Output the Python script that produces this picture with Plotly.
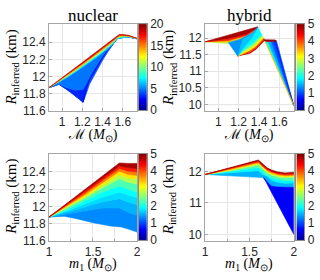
import plotly.graph_objects as go

# ---------------- data ----------------
# Top-left: nuclear, x = chirp mass, colour 0..20
nuc_mc_x = [0.871, 0.968, 1.048, 1.128, 1.208, 1.24, 1.272, 1.30, 1.353, 1.40, 1.449, 1.50, 1.545, 1.567, 1.60, 1.657, 1.741]
nuc_mc_edge_low = [11.87, 11.91, 11.85, 11.78, 11.70, 11.80, 11.91, 11.97, 12.09, 12.185, 12.28, 12.367, 12.44, 12.445, 12.455, 12.46, 12.44]
nuc_mc_seam = [11.87, 11.91, 11.85, 11.78, 11.70, 11.86, 11.96, 12.02, 12.13, 12.22, 12.30, 12.37, 12.44, 12.445, 12.455, 12.46, 12.44]
nuc_mc_mid = [11.87, 11.91, 11.87, 11.84, 11.85, 11.92, 12.00, 12.05, 12.15, 12.235, 12.31, 12.375, 12.44, 12.445, 12.455, 12.46, 12.44]
nuc_mc_iso7 = [11.870, 11.932, 11.988, 12.049, 12.111, 12.137, 12.164, 12.188, 12.234, 12.276, 12.321, 12.375, 12.44, 12.445, 12.455, 12.46, 12.44]
nuc_mc_iso11 = [11.870, 11.938, 11.998, 12.062, 12.126, 12.153, 12.180, 12.204, 12.251, 12.293, 12.337, 12.389, 12.448, 12.456, 12.463, 12.465, 12.441]
nuc_mc_iso15 = [11.870, 11.945, 12.008, 12.074, 12.141, 12.168, 12.196, 12.221, 12.267, 12.309, 12.354, 12.403, 12.456, 12.468, 12.472, 12.470, 12.443]
nuc_mc_iso19 = [11.870, 11.951, 12.018, 12.087, 12.156, 12.184, 12.212, 12.237, 12.284, 12.326, 12.370, 12.417, 12.463, 12.479, 12.480, 12.475, 12.444]
nuc_mc_edge_top = [11.870, 11.957, 12.028, 12.099, 12.171, 12.199, 12.228, 12.253, 12.300, 12.342, 12.386, 12.431, 12.471, 12.490, 12.488, 12.480, 12.445]
nuc_mc_band_values = [4.2, 3.2, 4.8, 7.0, 10.5, 14.5, 18.5]

# Bottom-left: nuclear, x = m1, colour 0..5
nuc_m1_x = [1.0, 1.2, 1.4, 1.6, 1.8, 1.9, 2.0]
nuc_m1_low_x = [1.0, 1.1, 1.17, 1.3, 1.5, 1.7, 1.82, 1.9, 2.0]
nuc_m1_low = [11.875, 11.885, 11.885, 11.86, 11.81, 11.77, 11.76, 11.735, 11.70]
nuc_m1_iso15 = [11.875, 11.91, 11.95, 11.98, 11.98, 11.93, 11.90]
nuc_m1_iso16 = [11.875, 11.93, 11.99, 12.05, 12.09, 12.05, 12.02]
nuc_m1_iso18 = [11.875, 11.945, 12.025, 12.105, 12.165, 12.13, 12.10]
nuc_m1_iso20 = [11.875, 11.96, 12.06, 12.16, 12.24, 12.20, 12.17]
nuc_m1_iso25 = [11.875, 11.98, 12.09, 12.21, 12.32, 12.28, 12.26]
nuc_m1_iso30 = [11.875, 11.99, 12.11, 12.24, 12.37, 12.33, 12.32]
nuc_m1_iso35 = [11.875, 12.00, 12.13, 12.27, 12.41, 12.37, 12.36]
nuc_m1_iso40 = [11.875, 12.01, 12.15, 12.295, 12.44, 12.41, 12.40]
nuc_m1_iso45 = [11.875, 12.02, 12.17, 12.32, 12.47, 12.45, 12.44]
nuc_m1_top = [11.875, 12.0325, 12.19, 12.3475, 12.505, 12.50, 12.50]
nuc_m1_band_values = [1.3, 1.5, 1.7, 1.9, 2.25, 2.75, 3.25, 3.75, 4.25, 4.8]

# Bottom-right: hybrid, x = m1, colour 0..5
hyb_m1_x = [1.0, 1.3, 1.6, 1.65, 1.7, 1.75, 1.82, 1.9, 2.0]
hyb_m1_low = [11.9, 11.85, 11.80, 11.80, 11.66, 11.53, 11.50, 11.49, 11.49]
hyb_m1_iso17 = [11.9, 11.95, 12.02, 11.90, 11.84, 11.72, 11.65, 11.62, 11.63]
hyb_m1_iso20 = [11.9, 12.00, 12.12, 11.98, 11.87, 11.80, 11.74, 11.71, 11.72]
hyb_m1_iso25 = [11.9, 12.03, 12.20, 12.06, 11.95, 11.88, 11.82, 11.79, 11.80]
hyb_m1_iso30 = [11.9, 12.05, 12.24, 12.10, 11.99, 11.92, 11.86, 11.83, 11.84]
hyb_m1_iso35 = [11.9, 12.07, 12.27, 12.13, 12.02, 11.95, 11.89, 11.86, 11.87]
hyb_m1_iso40 = [11.9, 12.09, 12.30, 12.16, 12.05, 11.98, 11.92, 11.89, 11.90]
hyb_m1_iso45 = [11.9, 12.11, 12.33, 12.19, 12.08, 12.01, 11.95, 11.92, 11.935]
hyb_m1_top = [11.9, 12.13, 12.36, 12.22, 12.11, 12.04, 11.98, 11.95, 11.97]
hyb_m1_band_values = [1.5, 1.85, 2.25, 2.75, 3.25, 3.75, 4.25, 4.8]
hyb_m1_blue_x = [1.66, 1.70, 1.75, 1.82, 1.9, 2.0]
hyb_m1_blue_top = [11.80, 11.66, 11.53, 11.50, 11.49, 11.49]
hyb_m1_blue_edge_x = [1.66, 2.0]
hyb_m1_blue_edge = [11.80, 10.0]
hyb_m1_blue_value = 0.6

# Top-right: hybrid, x = chirp mass, colour 0..5
hyb_mc_wedge_x = [0.871, 1.10, 1.28, 1.387]
hyb_mc_wedge_top = [11.89, 12.089, 12.246, 12.34]
hyb_mc_wedge_1 = [11.89, 11.99, 12.12, 12.31]
hyb_mc_wedge_2 = [11.89, 11.93, 12.08, 12.29]
hyb_mc_wedge_3 = [11.89, 11.88, 12.05, 12.27]
hyb_mc_wedge_low = [11.89, 11.83, 11.90, 12.00]
hyb_mc_wedge_values = [2.8, 3.5, 4.2, 4.8]

hyb_mc_arc0_x = [1.19, 1.25, 1.31, 1.37, 1.42, 1.455]
hyb_mc_arc0_y = [11.46, 11.49, 11.54, 11.66, 11.82, 11.93]
hyb_mc_arc1_x = [1.19, 1.25, 1.31, 1.37, 1.42, 1.450]
hyb_mc_arc1_y = [11.46, 11.52, 11.58, 11.71, 11.88, 11.96]
hyb_mc_arc2_x = [1.19, 1.25, 1.31, 1.37, 1.41, 1.443]
hyb_mc_arc2_y = [11.46, 11.55, 11.63, 11.76, 11.91, 12.00]
hyb_mc_arc3_x = [1.19, 1.24, 1.30, 1.36, 1.40, 1.435]
hyb_mc_arc3_y = [11.46, 11.58, 11.69, 11.82, 11.96, 12.05]
hyb_mc_arc4_x = [1.19, 1.23, 1.29, 1.35, 1.39, 1.426]
hyb_mc_arc4_y = [11.46, 11.61, 11.75, 11.88, 12.02, 12.10]
hyb_mc_arc5_x = [1.19, 1.26, 1.33, 1.387]
hyb_mc_arc5_y = [11.46, 11.75, 12.00, 12.32]
hyb_mc_arc6_x = [1.19, 1.22, 1.24, 1.28, 1.34, 1.387]
hyb_mc_arc6_y = [11.46, 11.75, 12.00, 12.05, 12.16, 12.32]
hyb_mc_arc7_x = [1.19, 1.10, 1.20, 1.24, 1.28, 1.34, 1.387]
hyb_mc_arc7_y = [11.46, 11.86, 11.95, 12.00, 12.05, 12.16, 12.32]
hyb_mc_arc_values = [4.7, 4.0, 3.2, 2.4, 1.85, 1.6, 1.35]

hyb_mc_bar_top_x = [1.445, 1.555, 1.57]
hyb_mc_bar_top_y = [11.95, 11.945, 11.92]
hyb_mc_bar_low_x = [1.445, 1.46, 1.555, 1.57]
hyb_mc_bar_low_y = [11.95, 11.90, 11.90, 11.92]
hyb_mc_bar_value = 4.9

hyb_mc_tail_top_x = [1.46, 1.467, 1.49, 1.52, 1.545, 1.57]
hyb_mc_tail_top_y = [11.90, 11.90, 11.90, 11.90, 11.905, 11.92]
hyb_mc_tail_end = (1.741, 9.97)
hyb_mc_tail_values = [3.6, 1.85, 1.45, 1.05, 0.85]

# colour bar ranges / tick labels
cbar_nuc_mc_max = 20
cbar_nuc_mc_ticks = [0, 5, 10, 15, 20]
cbar_other_max = 5
cbar_other_ticks = [0, 1, 2, 3, 4, 5]

# ---------------- colour map (MATLAB jet) ----------------
JET = [(0.0, (0, 0, 143)), (0.125, (0, 0, 255)), (0.375, (0, 255, 255)),
       (0.625, (255, 255, 0)), (0.875, (255, 0, 0)), (1.0, (128, 0, 0))]


def jet(v, vmax):
    t = min(max(v / vmax, 0.0), 1.0)
    for (t0, c0), (t1, c1) in zip(JET[:-1], JET[1:]):
        if t <= t1:
            f = (t - t0) / (t1 - t0)
            c = [round(a + (b - a) * f) for a, b in zip(c0, c1)]
            return 'rgb(%d,%d,%d)' % tuple(c)
    return 'rgb(128,0,0)'


JET_SCALE = [[t, 'rgb(%d,%d,%d)' % c] for t, c in JET]

fig = go.Figure()


def band(xa, ya, xb, yb, value, vmax, ax):
    xs = list(xa) + list(reversed(xb))
    ys = list(ya) + list(reversed(yb))
    col = jet(value, vmax)
    fig.add_trace(go.Scatter(x=xs, y=ys, mode='lines', fill='toself', fillcolor=col,
                             line=dict(color=col, width=0.6), hoverinfo='skip',
                             showlegend=False, xaxis='x' + ax, yaxis='y' + ax))


def stack(curves, values, vmax, ax):
    for (xa, ya), (xb, yb), v in zip(curves[:-1], curves[1:], values):
        band(xa, ya, xb, yb, v, vmax, ax)


# Top-left
stack([(nuc_mc_x, nuc_mc_edge_low), (nuc_mc_x, nuc_mc_seam), (nuc_mc_x, nuc_mc_mid),
       (nuc_mc_x, nuc_mc_iso7), (nuc_mc_x, nuc_mc_iso11), (nuc_mc_x, nuc_mc_iso15),
       (nuc_mc_x, nuc_mc_iso19), (nuc_mc_x, nuc_mc_edge_top)],
      nuc_mc_band_values, cbar_nuc_mc_max, '')
fig.add_trace(go.Scatter(x=nuc_mc_x[4:11], y=nuc_mc_seam[4:11], mode='lines',
                         line=dict(color=jet(2.0, 20), width=0.8), hoverinfo='skip',
                         showlegend=False, xaxis='x', yaxis='y'))

# Top-right
stack([(hyb_mc_wedge_x, hyb_mc_wedge_low), (hyb_mc_wedge_x, hyb_mc_wedge_3),
       (hyb_mc_wedge_x, hyb_mc_wedge_2), (hyb_mc_wedge_x, hyb_mc_wedge_1),
       (hyb_mc_wedge_x, hyb_mc_wedge_top)], hyb_mc_wedge_values, 5, '2')
stack([(hyb_mc_arc0_x, hyb_mc_arc0_y), (hyb_mc_arc1_x, hyb_mc_arc1_y),
       (hyb_mc_arc2_x, hyb_mc_arc2_y), (hyb_mc_arc3_x, hyb_mc_arc3_y),
       (hyb_mc_arc4_x, hyb_mc_arc4_y), (hyb_mc_arc5_x, hyb_mc_arc5_y),
       (hyb_mc_arc6_x, hyb_mc_arc6_y), (hyb_mc_arc7_x, hyb_mc_arc7_y)],
      hyb_mc_arc_values, 5, '2')
tail_curves = [([tx, hyb_mc_tail_end[0]], [ty, hyb_mc_tail_end[1]])
               for tx, ty in zip(hyb_mc_tail_top_x, hyb_mc_tail_top_y)]
stack(tail_curves, hyb_mc_tail_values, 5, '2')
band(hyb_mc_bar_low_x, hyb_mc_bar_low_y, hyb_mc_bar_top_x, hyb_mc_bar_top_y, hyb_mc_bar_value, 5, '2')
fig.add_trace(go.Scatter(x=[hyb_mc_tail_top_x[0], hyb_mc_tail_end[0]],
                         y=[hyb_mc_tail_top_y[0], hyb_mc_tail_end[1]], mode='lines',
                         line=dict(color=jet(3.4, 5), width=1), hoverinfo='skip',
                         showlegend=False, xaxis='x2', yaxis='y2'))

# Bottom-left
stack([(nuc_m1_low_x, nuc_m1_low), (nuc_m1_x, nuc_m1_iso15), (nuc_m1_x, nuc_m1_iso16),
       (nuc_m1_x, nuc_m1_iso18), (nuc_m1_x, nuc_m1_iso20),
       (nuc_m1_x, nuc_m1_iso25), (nuc_m1_x, nuc_m1_iso30), (nuc_m1_x, nuc_m1_iso35),
       (nuc_m1_x, nuc_m1_iso40), (nuc_m1_x, nuc_m1_iso45), (nuc_m1_x, nuc_m1_top)],
      nuc_m1_band_values, 5, '3')

# Bottom-right
stack([(hyb_m1_x, hyb_m1_low), (hyb_m1_x, hyb_m1_iso17), (hyb_m1_x, hyb_m1_iso20),
       (hyb_m1_x, hyb_m1_iso25), (hyb_m1_x, hyb_m1_iso30), (hyb_m1_x, hyb_m1_iso35),
       (hyb_m1_x, hyb_m1_iso40), (hyb_m1_x, hyb_m1_iso45), (hyb_m1_x, hyb_m1_top)],
      hyb_m1_band_values, 5, '4')
band(hyb_m1_blue_edge_x, hyb_m1_blue_edge, hyb_m1_blue_x, hyb_m1_blue_top, hyb_m1_blue_value, 5, '4')

# ---------------- colour bars: a jet strip in its own small axes ----------------
W, H = 320, 280
N_STRIP = 128
CB = [  # axis id, left px, top px, bottom px, vmax, ticks
    ('5', 139, 18, 108.5, cbar_nuc_mc_max, cbar_nuc_mc_ticks),
    ('6', 300, 18, 108.5, cbar_other_max, cbar_other_ticks),
    ('7', 139, 154.7, 245.5, cbar_other_max, cbar_other_ticks),
    ('8', 300, 154.7, 245.5, cbar_other_max, cbar_other_ticks),
]
for ax, _, _, _, vmax, _ in CB:
    dy = vmax / N_STRIP
    fig.add_trace(go.Heatmap(z=[[(i + 0.5) * dy] for i in range(N_STRIP)], x0=0, dx=1,
                             y0=dy / 2, dy=dy, colorscale=JET_SCALE, zmin=0, zmax=vmax,
                             showscale=False, hoverinfo='skip', xaxis='x' + ax, yaxis='y' + ax))

TXT = '#262626'
SANS = 'Liberation Sans'
SERIF = 'Liberation Serif'
tickfont = dict(family=SANS, size=12, color=TXT)
FRAME = '#a6a6a6'
GRID = '#e6e6e6'


def axis(domain, rng, tickvals, anchor, minor_dtick=None):
    d = dict(domain=domain, range=rng, tickvals=tickvals,
             showgrid=True, gridcolor=GRID, gridwidth=1, zeroline=False,
             showline=True, linecolor=FRAME, linewidth=1, mirror=True,
             ticks='inside', ticklen=3, tickcolor=FRAME, tickfont=tickfont,
             anchor=anchor, fixedrange=True)
    if minor_dtick:
        d['minor'] = dict(dtick=minor_dtick, tick0=rng[0], showgrid=True, gridcolor=GRID,
                          ticks='inside', ticklen=2, tickcolor=FRAME)
    return d


top_dom = [1 - 109.3 / H, 1 - 18 / H]
bot_dom = [1 - 246 / H, 1 - 154.7 / H]
left_dom = [47 / W, 137 / W]
right_dom = [206.7 / W, 297.3 / W]

mc_ticks = [1, 1.2, 1.4, 1.6]
m1_ticks = [1, 1.5, 2]
nuc_r_ticks = [11.6, 11.8, 12, 12.2, 12.4]
hyb_mc_r_ticks = [10, 10.5, 11, 11.5, 12]
hyb_m1_r_ticks = [10, 11, 12]

layout_axes = dict(
    xaxis=axis(left_dom, [0.8706, 1.7411], mc_ticks, 'y'),
    yaxis=axis(top_dom, [11.6, 12.61], nuc_r_ticks, 'x'),
    xaxis2=axis(right_dom, [0.8706, 1.7411], mc_ticks, 'y2'),
    yaxis2=axis(top_dom, [9.81, 12.42], hyb_mc_r_ticks, 'x2'),
    xaxis3=axis(left_dom, [1, 2], m1_ticks, 'y3', minor_dtick=0.25),
    yaxis3=axis(bot_dom, [11.6, 12.61], nuc_r_ticks, 'x3'),
    xaxis4=axis(right_dom, [1, 2], m1_ticks, 'y4', minor_dtick=0.25),
    yaxis4=axis(bot_dom, [9.8, 12.55], hyb_m1_r_ticks, 'x4'),
)
for ax, left, top, bot, vmax, ticks in CB:
    layout_axes['xaxis' + ax] = dict(domain=[left / W, (left + 8) / W], range=[-0.5, 0.5],
                                     anchor='y' + ax, showticklabels=False, ticks='',
                                     showgrid=False, zeroline=False, showline=True,
                                     linecolor='#8c8c8c', linewidth=1, mirror=True,
                                     fixedrange=True)
    layout_axes['yaxis' + ax] = dict(domain=[1 - bot / H, 1 - top / H], range=[0, vmax],
                                     anchor='x' + ax, side='right', tickvals=ticks,
                                     ticks='', tickfont=tickfont, showgrid=False,
                                     zeroline=False, showline=True, linecolor='#8c8c8c',
                                     linewidth=1, mirror=True, fixedrange=True)

ann = []
ann.append(dict(text='nuclear', x=92 / W, y=1 - 9 / H, font=dict(family=SERIF, size=17, color='black')))
ann.append(dict(text='hybrid', x=252 / W, y=1 - 9 / H, font=dict(family=SERIF, size=17, color='black')))
ytitle = '<i>R</i><sub>inferred</sub> (km)'
for xc, yc in ((9, 64), (170, 64), (9, 200), (170, 200)):
    ann.append(dict(text=ytitle, x=xc / W, y=1 - yc / H, textangle=-90,
                    font=dict(family=SERIF, size=15, color='black')))
mc_title = 'ℳ (<i>M</i><sub>⊙</sub>)'
m1_title = '<i>m</i><sub>1</sub> (<i>M</i><sub>⊙</sub>)'
for xc, yc, t in ((92, 135.5, mc_title), (252, 135.5, mc_title), (92, 271.5, m1_title), (252, 271.5, m1_title)):
    ann.append(dict(text=t, x=xc / W, y=1 - yc / H, font=dict(family=SERIF, size=14, color='black')))
for a in ann:
    a.update(xref='paper', yref='paper', xanchor='center', yanchor='middle', showarrow=False)

fig.update_layout(
    width=W, height=H, margin=dict(l=0, r=0, t=0, b=0),
    paper_bgcolor='white', plot_bgcolor='white', showlegend=False,
    annotations=ann, **layout_axes,
)

fig.write_html('out.html', config={'displayModeBar': False},
               post_script="document.body.style.margin='0px';document.body.style.overflow='hidden';")
